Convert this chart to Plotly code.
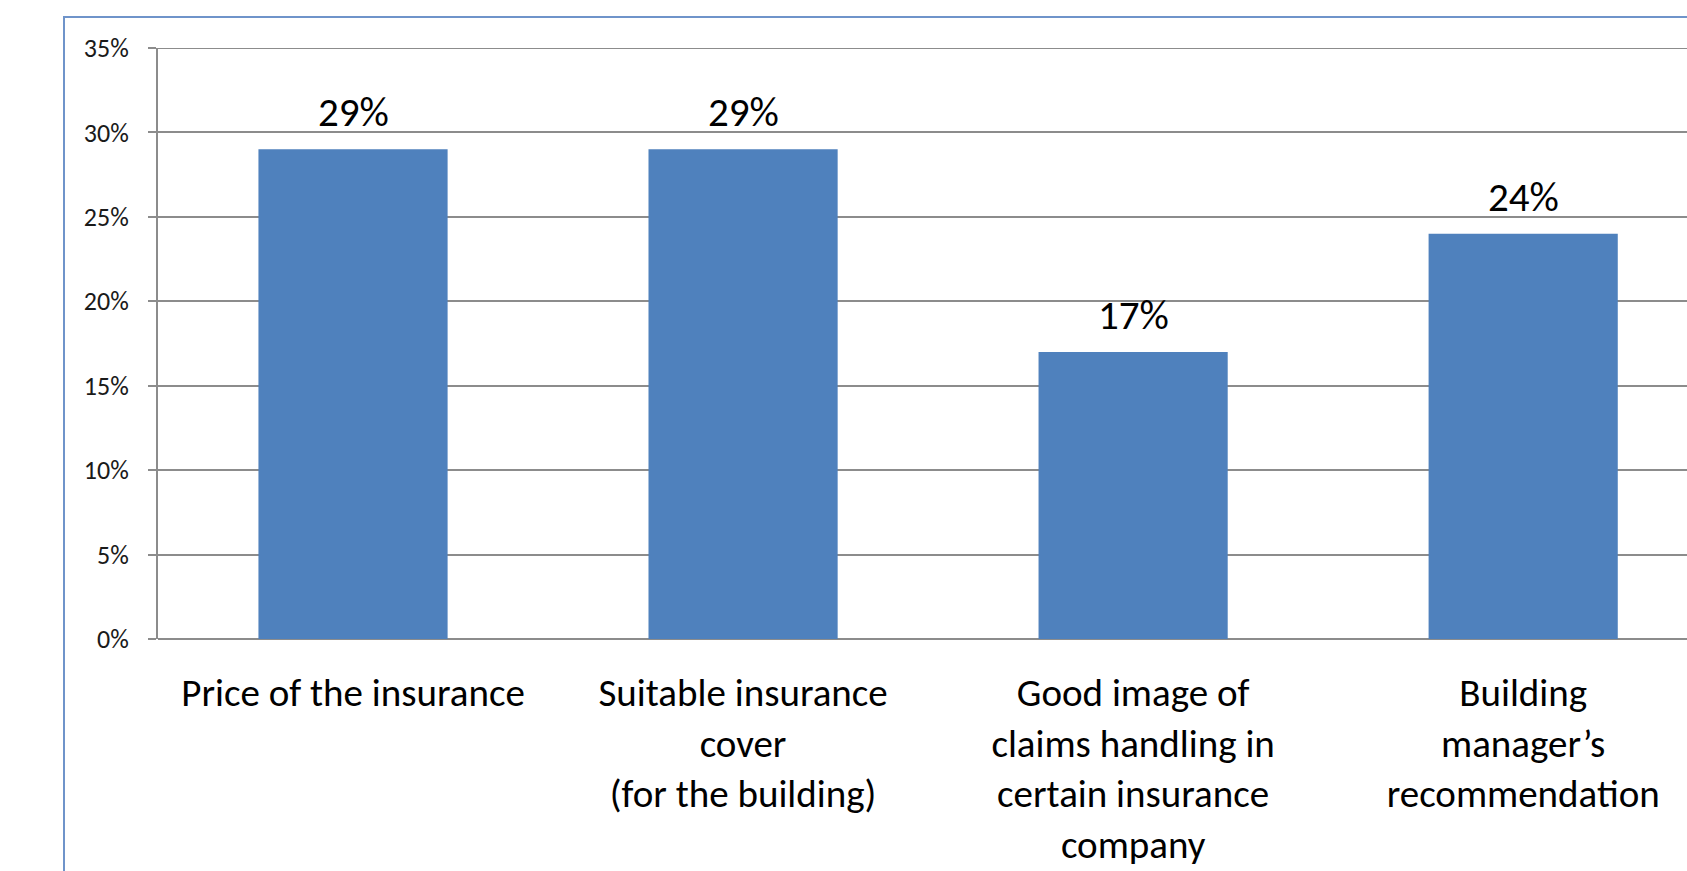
import plotly.graph_objects as go

# Survey results: factors behind the choice of building insurance
categories = [
    "Price of the insurance",
    "Suitable insurance<br>cover<br>(for the building)",
    "Good image of<br>claims handling in<br>certain insurance<br>company",
    "Building<br>manager’s<br>recommendation",
]
shares = [0.29, 0.29, 0.17, 0.24]
y_ticks = [0.0, 0.05, 0.10, 0.15, 0.20, 0.25, 0.30, 0.35]

BAR_BLUE = "#4F81BD"
GRID_GREY = "#8C8C8C"
FONT = "Calibri, Carlito, Lato, sans-serif"

W, H = 1687, 871
L, T, B = 158, 48, 232

fig = go.Figure()
fig.add_trace(go.Bar(
    x=list(range(len(categories))),
    y=shares,
    marker=dict(color=BAR_BLUE, line=dict(width=0)),
    hoverinfo="skip",
))

# value labels above each bar
for i, v in enumerate(shares):
    fig.add_annotation(
        x=i, y=v, text=f"{round(v * 100)}%",
        showarrow=False, yanchor="bottom", yshift=10,
        font=dict(family=FONT, size=41, color="#000000"),
    )

# top gridline at the upper end of the value axis
fig.add_hline(y=y_ticks[-1], line=dict(color=GRID_GREY, width=2), layer="below")

# outer chart frame (runs past the right and bottom edges)
plot_w = W - L
plot_h = H - T - B
fig.add_shape(
    type="rect", xref="paper", yref="paper",
    x0=(64 - L) / plot_w, x1=1.2,
    y0=-1.0, y1=(H - B - 17) / plot_h,
    line=dict(color="#6F94CA", width=2), fillcolor="rgba(0,0,0,0)",
    layer="below",
)

fig.update_layout(
    width=W, height=H,
    margin=dict(l=L, r=0, t=T, b=B, pad=0, autoexpand=False),
    paper_bgcolor="white", plot_bgcolor="white",
    showlegend=False,
    bargap=0.515,
    font=dict(family=FONT, color="#000000"),
)
fig.update_xaxes(
    tickmode="array",
    tickvals=list(range(len(categories))),
    ticktext=categories,
    range=[-0.5, 3.42],
    showgrid=False, zeroline=False,
    showline=False,
    ticks="",
    tickfont=dict(family=FONT, size=39, color="#000000"),
    ticklabelstandoff=27,
    automargin=False,
    fixedrange=True,
)
fig.update_yaxes(
    range=[0, 0.35],
    tickmode="array", tickvals=y_ticks,
    tickformat=".0%",
    showgrid=True, gridcolor=GRID_GREY, gridwidth=2,
    zeroline=True, zerolinecolor=GRID_GREY, zerolinewidth=2,
    showline=True, linecolor=GRID_GREY, linewidth=2,
    ticks="outside", ticklen=8, tickwidth=2, tickcolor=GRID_GREY,
    tickfont=dict(family=FONT, size=26, color="#1A1A1A"),
    ticklabelstandoff=14,
    automargin=False,
    fixedrange=True,
)

fig.write_html("out.html", config={"displayModeBar": False})
